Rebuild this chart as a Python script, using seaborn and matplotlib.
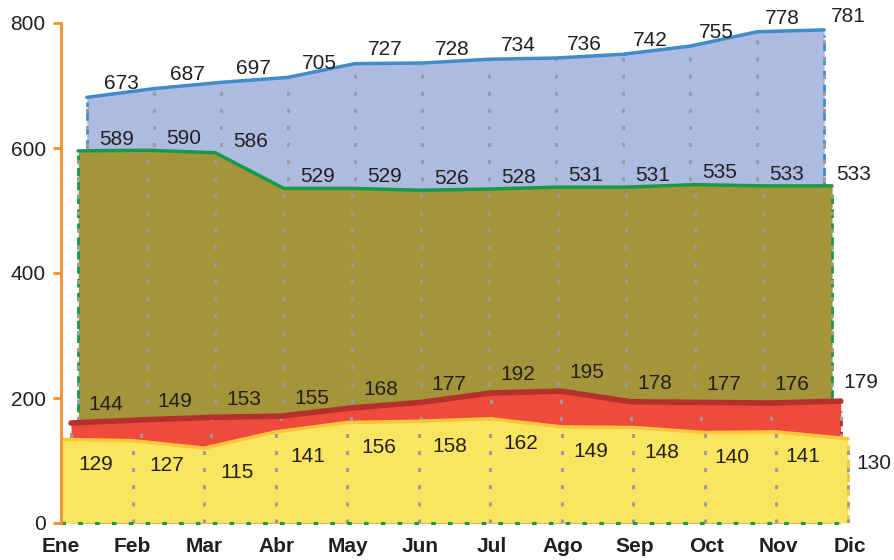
import numpy as np
import matplotlib.pyplot as plt
import matplotlib.transforms as mtransforms
import seaborn as sns

# datos
meses = ["Ene", "Feb", "Mar", "Abr", "May", "Jun", "Jul", "Ago", "Sep", "Oct", "Nov", "Dic"]
serie_azul = [673, 687, 697, 705, 727, 728, 734, 736, 742, 755, 778, 781]
serie_verde = [589, 590, 586, 529, 529, 526, 528, 531, 531, 535, 533, 533]
serie_roja = [144, 149, 153, 155, 168, 177, 192, 195, 178, 177, 176, 179]
serie_amarilla = [129, 127, 115, 141, 156, 158, 162, 149, 148, 140, 141, 130]

# estilo de cada serie: relleno, borde, rango x del area, rango x de etiquetas,
# desplazamiento de etiqueta (unidades y) y efecto 3D (pixeles hacia arriba)
estilos = [
    (serie_azul, "#AEBBE0", "#3F8BCC", (0.36, 10.64), (0.84, 10.98), 30, 5),
    (serie_verde, "#A4953A", "#17994A", (0.24, 10.75), (0.77, 11.05), 25, 4),
    (serie_roja, "#EF4B3C", "#B3302B", (0.14, 10.87), (0.63, 11.15), 45, 10),
    (serie_amarilla, "#F9E55F", "#F9C53A", (0.0, 10.97), (0.49, 11.33), -35, 3),
]

sns.set_theme(style="white")
plt.rcParams['font.family'] = ['Liberation Sans', 'DejaVu Sans']

fig = plt.figure(figsize=(8.94, 5.60), dpi=100)
ax = fig.add_axes([61 / 894, 37 / 560, (850 - 61) / 894, 500 / 560])
ax.set_xlim(0, 11)
ax.set_ylim(0, 800)

for i, (vals, relleno, borde, (x0, x1), (l0, l1), dy, prof) in enumerate(estilos):
    z = 1 + i * 2
    tr = mtransforms.offset_copy(ax.transData, fig=fig, x=0, y=prof, units="dots")
    x = np.linspace(x0, x1, len(vals))
    y = np.array(vals)
    base = np.full(len(vals), -prof / 500 * 800)
    ax.fill_between(x, base, y, color=relleno, lw=0, zorder=z, transform=tr)
    # bordes laterales
    ax.plot([x0, x0], [0, y[0]], color=borde, lw=2, ls=(0, (3, 2)), zorder=z + 0.1)
    ax.plot([x1, x1], [0, y[-1]], color=borde, lw=2, ls=(0, (3, 2)), zorder=z + 0.1)
    # lineas de caida
    ax.vlines(x, 0, y + prof / 500 * 800, colors="#9B9B9B", linestyles=(0, (1.3, 4.3)),
              lw=2.2, zorder=z + 0.2)
    lw = 4 if borde == "#B3302B" else 2.5
    sns.lineplot(x=x, y=y, color=borde, lw=lw, ax=ax, zorder=z + 0.3, legend=False,
                 transform=tr)
    # etiquetas
    xl = np.linspace(l0, l1, len(vals))
    for xv, v in zip(xl, vals):
        ax.text(xv, v + dy, str(v), ha="center", va="center", fontsize=15,
                color="#231F20", zorder=20, clip_on=False)

# linea base verde punteada
ax.plot([0, 11], [0, 0], color="#17994A", lw=2.2, ls=(0, (1.5, 4)), zorder=15, clip_on=False)

ax.set_xlim(0, 11)
ax.set_ylim(0, 800)
ax.set_yticks(range(0, 801, 200))
ax.set_xticks(range(len(meses)))
ax.set_xticklabels(meses, fontweight="bold")
ax.tick_params(axis="y", left=True, length=6, width=2, color="#F39229",
               labelcolor="#231F20", labelsize=15, pad=5)
ax.tick_params(axis="x", bottom=False, length=0, labelsize=15, labelcolor="#231F20", pad=10)

for lado in ["top", "right", "bottom"]:
    ax.spines[lado].set_visible(False)
ax.spines["left"].set_color("#F39229")
ax.spines["left"].set_linewidth(2)
ax.spines["left"].set_zorder(16)
ax.set_facecolor("white")

fig.savefig("out.png", dpi=100)
